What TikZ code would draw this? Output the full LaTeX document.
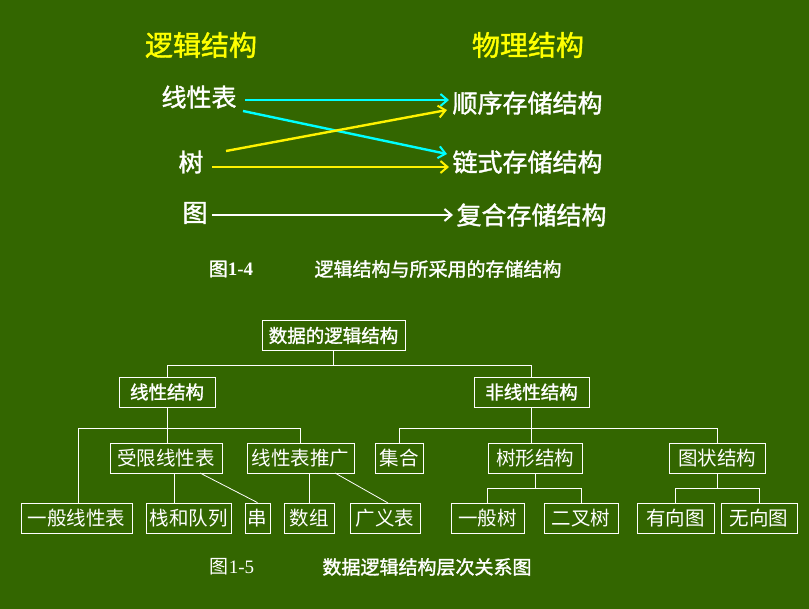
\documentclass[tikz,border=0pt]{standalone}
\usepackage{fontspec}
\newfontfamily\cjk{Noto Sans CJK SC}
\newfontfamily\cjkb[FakeBold=1.5]{Noto Sans CJK SC}
\setmainfont{Liberation Serif}
\usetikzlibrary{arrows.meta}
\definecolor{bg}{HTML}{336600}
\definecolor{ttl}{HTML}{FFFF00}
\definecolor{cy}{HTML}{00FFFF}
\tikzset{
 box/.style={draw=white,line width=0.8pt,text=white,inner sep=2pt,minimum height=30pt,font=\cjk\fontsize{19.5}{19.5}\selectfont},
 bbox/.style={box,font=\cjkb\fontsize{18.5}{18.5}\selectfont},
 lnk/.style={white,line width=0.8pt},
 arr/.style={line width=2.4pt,-{Straight Barb[length=7pt,width=12pt,line width=2pt]}},
 big/.style={text=white,font=\cjkb\fontsize{25}{25}\selectfont},
 captxt/.style={text=white,font=\cjkb\fontsize{19}{19}\selectfont},
}
\begin{document}
\begin{tikzpicture}[x=1pt,y=-1pt]
\fill[bg] (0,0) rectangle (809,609);
\useasboundingbox (0,0) rectangle (809,609);
\node[big,text=ttl,font=\cjkb\fontsize{28}{28}\selectfont] (t1) at (201,45) {逻辑结构};
\node[big,text=ttl,font=\cjkb\fontsize{28}{28}\selectfont] (t2) at (528,45) {物理结构};
\node[big] (l1) at (199,97) {线性表};
\node[big] (l2) at (191,162) {树};
\node[big] (l3) at (195,213) {图};
\node[big,anchor=west] (r1) at (449,103) {顺序存储结构};
\node[big,anchor=west] (r2) at (449,162) {链式存储结构};
\node[big,anchor=west] (r3) at (453,215) {复合存储结构};
\draw[arr,cy] (245,100) -- (r1.west|-0,100);
\draw[arr,cy] (243,111) -- (447,154);
\draw[arr,yellow] (226,151) -- (447,110);
\draw[arr,yellow] (212,167) -- (r2.west|-0,167);
\draw[arr,white] (212,215) -- (r3.west|-0,215);
\node[captxt] (c1) at (231,269) {图\bfseries\rmfamily 1-4};
\node[captxt] (c2) at (438,269) {逻辑结构与所采用的存储结构};
% tree
\node[bbox,minimum width=143pt] (root) at (333.5,335.5) {数据的逻辑结构};
\node[bbox,minimum width=96pt] (lin) at (167,392) {线性结构};
\node[bbox,minimum width=115pt] (nl) at (531.5,392) {非线性结构};
\node[box,minimum width=112pt] (sx) at (166,458) {受限线性表};
\node[box,minimum width=107pt] (tg) at (300.5,458) {线性表推广};
\node[box,minimum width=48pt] (jh) at (399,458.5) {集合};
\node[box,minimum width=94pt] (sx2) at (535,458) {树形结构};
\node[box,minimum width=96pt] (tz) at (717,458) {图状结构};
\node[box,minimum width=111pt] (b1) at (76.5,518) {一般线性表};
\node[box,minimum width=85pt] (b2) at (188.5,518) {栈和队列};
\node[box,minimum width=25pt,inner sep=1pt] (b3) at (257.5,518) {串};
\node[box,minimum width=50pt] (b4) at (309,518) {数组};
\node[box,minimum width=70pt] (b5) at (385,518) {广义表};
\node[box,minimum width=73pt] (b6) at (487.5,518) {一般树};
\node[box,minimum width=74pt] (b7) at (581,518) {二叉树};
\node[box,minimum width=77pt] (b8) at (675.5,518) {有向图};
\node[box,minimum width=76pt] (b9) at (759,518) {无向图};
\draw[lnk] (root.south) -- (333.5,365) -| (lin.north);
\draw[lnk] (333.5,365) -| (nl.north);
\draw[lnk] (lin.south) -- (167,428);
\draw[lnk] (b1.north-|78,0) -- (78,428) -| (tg.north);
\draw[lnk] (167,428) -- (sx.north-|167,0);
\draw[lnk] (nl.south) -- (531.5,428);
\draw[lnk] (jh.north) -- (399,428) -| (tz.north);
\draw[lnk] (531.5,428) -- (sx2.north-|531.5,0);
\draw[lnk] (b2.north-|174,0) -- (174,473);
\draw[lnk] (200,473) -- (b3.north);
\draw[lnk] (b4.north) -- (b4.north|-tg.south);
\draw[lnk] (335,473) -- (388,503);
\draw[lnk] (sx2.south) -- (535,488) -| (b6.north);
\draw[lnk] (535,488) -| (b7.north);
\draw[lnk] (tz.south) -- (717,488) -| (b8.north);
\draw[lnk] (717,488) -| (b9.north);
\node[captxt,font=\cjk\fontsize{19}{19}\selectfont] (c3) at (232,567) {图\rmfamily 1-5};
\node[captxt] (c4) at (427,567) {数据逻辑结构层次关系图};
\end{tikzpicture}
\end{document}
